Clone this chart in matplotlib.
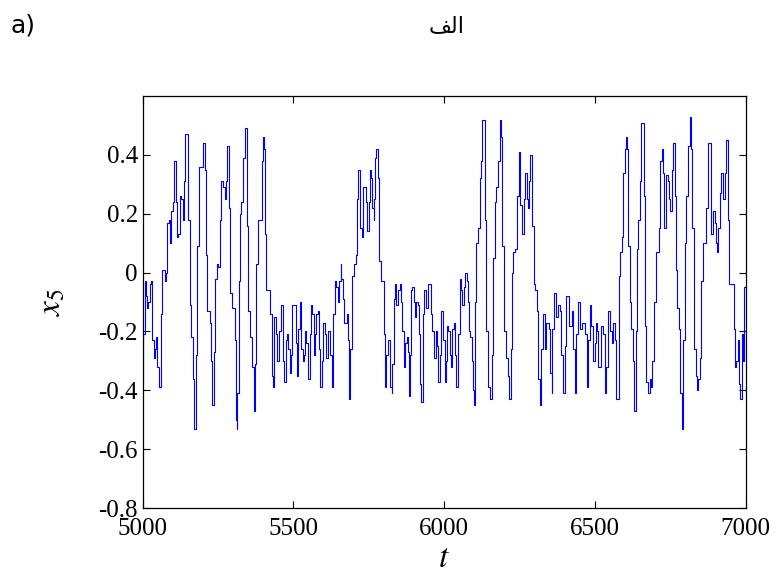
import matplotlib
matplotlib.use("Agg")
import matplotlib.pyplot as plt

plt.rcParams['axes.unicode_minus'] = False
plt.rcParams['mathtext.fontset'] = 'stix'

# step start times and held values of x5
t = [5000, 5001, 5007, 5010, 5014, 5018, 5023, 5029, 5032, 5036, 5040, 5043, 5047, 5054, 5059,
     5062, 5065, 5073, 5078, 5082, 5087, 5092, 5095, 5101, 5105, 5109, 5114, 5118, 5123, 5128,
     5132, 5136, 5141, 5150, 5156, 5161, 5167, 5170, 5176, 5180, 5187, 5200, 5206, 5209, 5213,
     5222, 5226, 5231, 5235, 5240, 5247, 5251, 5255, 5261, 5266, 5272, 5275, 5280, 5286, 5291,
     5297, 5305, 5311, 5313, 5314, 5318, 5322, 5327, 5333, 5338, 5346, 5349, 5357, 5362, 5368,
     5371, 5375, 5383, 5394, 5399, 5402, 5405, 5410, 5423, 5430, 5432, 5436, 5443, 5447, 5452,
     5457, 5465, 5470, 5474, 5479, 5482, 5488, 5493, 5496, 5507, 5512, 5516, 5520, 5525, 5530,
     5534, 5538, 5543, 5548, 5554, 5558, 5563, 5567, 5572, 5576, 5580, 5585, 5589, 5594, 5598,
     5605, 5609, 5614, 5622, 5628, 5631, 5637, 5642, 5647, 5651, 5656, 5659, 5664, 5669, 5676,
     5680, 5684, 5689, 5695, 5700, 5706, 5711, 5714, 5720, 5722, 5728, 5731, 5740, 5744, 5749,
     5753, 5758, 5762, 5766, 5768, 5771, 5775, 5781, 5784, 5789, 5799, 5804, 5808, 5814, 5819,
     5821, 5826, 5828, 5833, 5837, 5841, 5846, 5852, 5858, 5861, 5866, 5870, 5875, 5879, 5882,
     5886, 5890, 5894, 5899, 5903, 5908, 5912, 5917, 5920, 5923, 5928, 5932, 5941, 5946, 5956,
     5961, 5965, 5972, 5976, 5981, 5985, 5990, 5996, 6001, 6005, 6009, 6014, 6018, 6023, 6027,
     6032, 6036, 6040, 6046, 6051, 6057, 6060, 6065, 6070, 6074, 6078, 6082, 6087, 6091, 6096,
     6099, 6102, 6107, 6112, 6118, 6123, 6127, 6134, 6140, 6145, 6151, 6157, 6162, 6168, 6173,
     6179, 6184, 6190, 6193, 6197, 6204, 6210, 6215, 6220, 6224, 6228, 6235, 6242, 6247, 6253,
     6257, 6264, 6268, 6273, 6277, 6281, 6286, 6290, 6297, 6301, 6308, 6312, 6317, 6321, 6328,
     6333, 6337, 6346, 6350, 6356, 6359, 6365, 6370, 6379, 6385, 6389, 6394, 6400, 6405, 6414,
     6423, 6427, 6433, 6438, 6444, 6452, 6458, 6467, 6472, 6477, 6483, 6488, 6494, 6499, 6503,
     6507, 6511, 6521, 6527, 6532, 6538, 6543, 6549, 6555, 6560, 6566, 6571, 6580, 6584, 6589,
     6593, 6599, 6602, 6607, 6609, 6615, 6621, 6626, 6631, 6635, 6640, 6644, 6649, 6653, 6662,
     6665, 6671, 6676, 6682, 6687, 6690, 6695, 6702, 6713, 6717, 6723, 6726, 6730, 6735, 6741,
     6746, 6750, 6755, 6759, 6764, 6768, 6772, 6779, 6783, 6788, 6792, 6798, 6803, 6810, 6814,
     6820, 6823, 6828, 6834, 6839, 6843, 6848, 6853, 6859, 6870, 6875, 6885, 6892, 6897, 6901,
     6905, 6909, 6914, 6919, 6925, 6930, 6936, 6940, 6945, 6960, 6965, 6969, 6974, 6978, 6982,
     6987, 6991, 6996, 7000]

x5 = [-0.38, -0.21, -0.03, -0.08, -0.12, -0.10, -0.04, -0.03, -0.23, -0.29, -0.26, -0.22, -0.32, -0.39, -0.36,
      -0.14, 0.01, -0.03, 0.00, 0.17, 0.18, 0.10, 0.21, 0.24, 0.38, 0.24, 0.12, 0.13, 0.26, 0.25,
      0.18, 0.31, 0.47, 0.18, -0.11, -0.22, -0.36, -0.53, -0.28, 0.09, 0.36, 0.44, 0.35, 0.06, -0.13,
      -0.17, -0.30, -0.45, -0.27, -0.02, 0.03, 0.02, 0.18, 0.31, 0.29, 0.25, 0.31, 0.43, 0.22, -0.07,
      -0.12, -0.23, -0.50, -0.53, -0.41, -0.03, 0.20, 0.24, 0.39, 0.49, 0.16, -0.13, -0.22, -0.32, -0.47,
      -0.31, 0.03, 0.18, 0.38, 0.46, 0.42, 0.13, -0.06, -0.14, -0.35, -0.39, -0.15, -0.21, -0.30, -0.20,
      -0.11, -0.30, -0.37, -0.23, -0.21, -0.26, -0.34, -0.28, -0.11, -0.24, -0.35, -0.19, -0.10, -0.26, -0.30,
      -0.28, -0.20, -0.24, -0.36, -0.21, -0.11, -0.14, -0.28, -0.21, -0.14, -0.13, -0.26, -0.39, -0.30, -0.17,
      -0.21, -0.29, -0.20, -0.28, -0.39, -0.14, -0.03, -0.05, -0.10, -0.03, 0.03, -0.02, -0.09, -0.17, -0.14,
      -0.23, -0.43, -0.26, -0.01, 0.03, 0.06, 0.25, 0.35, 0.33, 0.15, 0.12, 0.29, 0.24, 0.14, 0.24,
      0.35, 0.32, 0.22, 0.18, 0.25, 0.39, 0.42, 0.32, 0.04, -0.03, -0.21, -0.39, -0.28, -0.23, -0.26,
      -0.39, -0.41, -0.31, -0.09, -0.04, -0.11, -0.06, -0.04, -0.10, -0.20, -0.32, -0.24, -0.22, -0.27, -0.42,
      -0.28, -0.06, -0.05, -0.10, -0.15, -0.10, -0.11, -0.21, -0.38, -0.44, -0.14, -0.06, -0.12, -0.04, -0.14,
      -0.20, -0.29, -0.20, -0.25, -0.37, -0.28, -0.13, -0.23, -0.37, -0.30, -0.18, -0.20, -0.28, -0.32, -0.19,
      -0.17, -0.28, -0.39, -0.21, -0.02, -0.06, -0.11, -0.05, 0.00, -0.03, -0.10, -0.20, -0.22, -0.30, -0.40,
      -0.45, -0.10, 0.10, 0.15, 0.32, 0.38, 0.52, 0.18, -0.20, -0.39, -0.43, -0.28, 0.05, 0.24, 0.29,
      0.38, 0.52, 0.46, 0.09, -0.20, -0.29, -0.35, -0.43, -0.26, 0.00, 0.07, 0.08, 0.26, 0.41, 0.23,
      0.13, 0.25, 0.34, 0.25, 0.22, 0.31, 0.40, 0.16, -0.04, -0.06, -0.13, -0.36, -0.45, -0.26, -0.14,
      -0.26, -0.17, -0.19, -0.34, -0.41, -0.19, -0.07, -0.15, -0.11, -0.13, -0.28, -0.41, -0.25, -0.08, -0.18,
      -0.13, -0.26, -0.41, -0.21, -0.10, -0.19, -0.17, -0.21, -0.39, -0.23, -0.11, -0.18, -0.30, -0.24, -0.17,
      -0.20, -0.32, -0.18, -0.21, -0.41, -0.32, -0.13, -0.20, -0.24, -0.17, -0.23, -0.43, -0.01, 0.07, 0.12,
      0.34, 0.42, 0.46, 0.42, 0.09, -0.10, -0.19, -0.30, -0.47, -0.20, 0.08, 0.18, 0.31, 0.51, 0.26,
      -0.18, -0.37, -0.41, -0.36, -0.39, -0.30, -0.10, 0.07, 0.15, 0.38, 0.42, 0.34, 0.15, 0.33, 0.31,
      0.25, 0.21, 0.35, 0.44, 0.26, 0.01, -0.12, -0.19, -0.41, -0.53, -0.23, 0.10, 0.26, 0.43, 0.53,
      0.42, 0.15, -0.26, -0.35, -0.40, -0.36, -0.29, -0.03, 0.10, 0.22, 0.44, 0.13, 0.21, 0.17, 0.10,
      0.07, 0.15, 0.27, 0.34, 0.25, 0.34, 0.45, 0.18, -0.04, -0.19, -0.32, -0.30, -0.23, -0.38, -0.43,
      -0.21, -0.30, -0.05, -0.05]

xticks = [5000, 5500, 6000, 6500, 7000]
yticks = [-0.8, -0.6, -0.4, -0.2, 0, 0.2, 0.4]
ytick_labels = ['-0.8', '-0.6', '-0.4', '-0.2', '0', '0.2', '0.4']

fig = plt.figure(figsize=(7.8, 5.82), dpi=100)
ax = fig.add_axes([0.183, 0.127, 0.773, 0.708])

ax.plot(t, x5, color='#0000ff', linewidth=0.8, drawstyle='steps-post')

ax.set_xlim(5000, 7000)
ax.set_ylim(-0.8, 0.6)
ax.set_xticks(xticks)
ax.set_yticks(yticks)
ax.set_yticklabels(ytick_labels)

serif = 'Liberation Serif'
for lab in ax.get_xticklabels() + ax.get_yticklabels():
    lab.set_fontfamily(serif)
    lab.set_fontsize(18)
ax.tick_params(direction='in', top=True, right=True, length=5, width=0.8)
ax.tick_params(axis='x', pad=7)
for sp in ax.spines.values():
    sp.set_linewidth(0.9)

ax.set_xlabel('$t$', fontsize=24, labelpad=1)
ax.set_ylabel('$x_5$', fontsize=24, labelpad=22)

# "الف" written in shaped presentation forms (visual order) so it joins correctly
fig.text(0.572, 0.955, '\ufed2\ufedf\ufe8d', fontsize=16, family='DejaVu Sans',
         ha='center', va='center')
fig.text(0.013, 0.957, 'a)', fontsize=18, family='Liberation Sans Narrow', ha='left', va='center')

fig.savefig('out.png', dpi=100)
